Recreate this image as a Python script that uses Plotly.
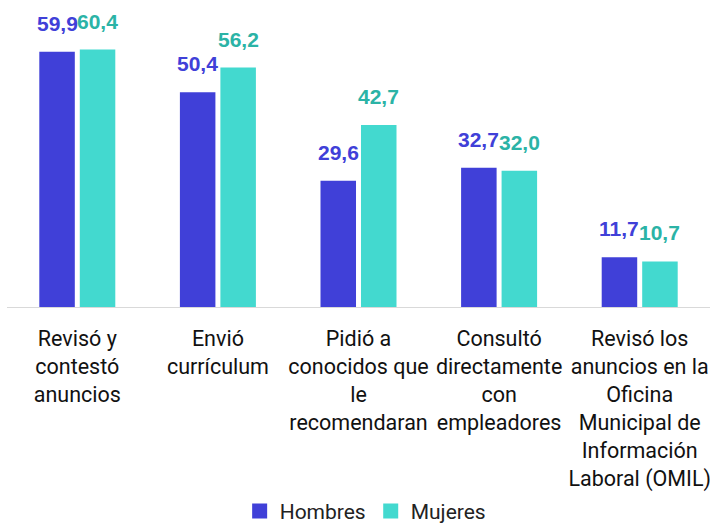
import plotly.graph_objects as go

categories = [
    "Revisó y<br>contestó<br>anuncios",
    "Envió<br>currículum",
    "Pidió a<br>conocidos que<br>le<br>recomendaran",
    "Consultó<br>directamente<br>con<br>empleadores",
    "Revisó los<br>anuncios en la<br>Oficina<br>Municipal de<br>Información<br>Laboral (OMIL)",
]
hombres = [59.9, 50.4, 29.6, 32.7, 11.7]
mujeres = [60.4, 56.2, 42.7, 32.0, 10.7]
series_names = ["Hombres", "Mujeres"]

bar_colors = ["#4040D8", "#43D9CF"]
label_colors = ["#4040D8", "#2BB3A6"]
BARGAP = 0.424

fig = go.Figure()
for name, vals, col in zip(series_names, [hombres, mujeres], bar_colors):
    fig.add_trace(go.Bar(x=categories, y=vals, name=name, showlegend=False,
                         marker=dict(color=col, line=dict(width=0))))
# legend entries with larger square swatches
for name, col in zip(series_names, bar_colors):
    fig.add_trace(go.Scatter(x=[None], y=[None], mode="markers", name=name,
                             marker=dict(symbol="square", size=15, color=col)))

def fmt(v):
    return f"{v:.1f}".replace(".", ",")

half = (1 - BARGAP) / 4
for s, (vals, lc) in enumerate(zip([hombres, mujeres], label_colors)):
    off = -half if s == 0 else half
    for i, v in enumerate(vals):
        fig.add_annotation(
            x=i + off, y=v, xref="x", yref="y", text=fmt(v), showarrow=False,
            yanchor="bottom", xanchor="center", yshift=15,
            font=dict(family="Liberation Sans, Arial, sans-serif", size=21, color=lc, weight="bold"),
        )

fig.update_layout(
    width=710, height=525,
    margin=dict(l=7, r=0, t=30, b=218, pad=0, autoexpand=False),
    paper_bgcolor="white", plot_bgcolor="white",
    barmode="group", bargap=BARGAP, bargroupgap=0.123,
    showlegend=True,
    legend=dict(orientation="h", x=0.515, xanchor="center", xref="container",
                y=0.026, yanchor="middle", yref="container",
                font=dict(family="Roboto, sans-serif", size=21, color="#222222"),
                itemwidth=30, traceorder="normal"),
    xaxis=dict(showline=True, linecolor="#D9D9D9", linewidth=1, ticks="",
               tickfont=dict(family="Roboto, sans-serif", size=21.5, color="#111111"),
               ticklabelstandoff=12, showgrid=False, automargin=False),
    yaxis=dict(range=[0, 65], visible=False, showgrid=False, zeroline=False),
)

fig.write_html(
    "out.html",
    config={"displayModeBar": False},
    post_script="document.body.style.margin='0';document.body.style.overflow='hidden';",
)
